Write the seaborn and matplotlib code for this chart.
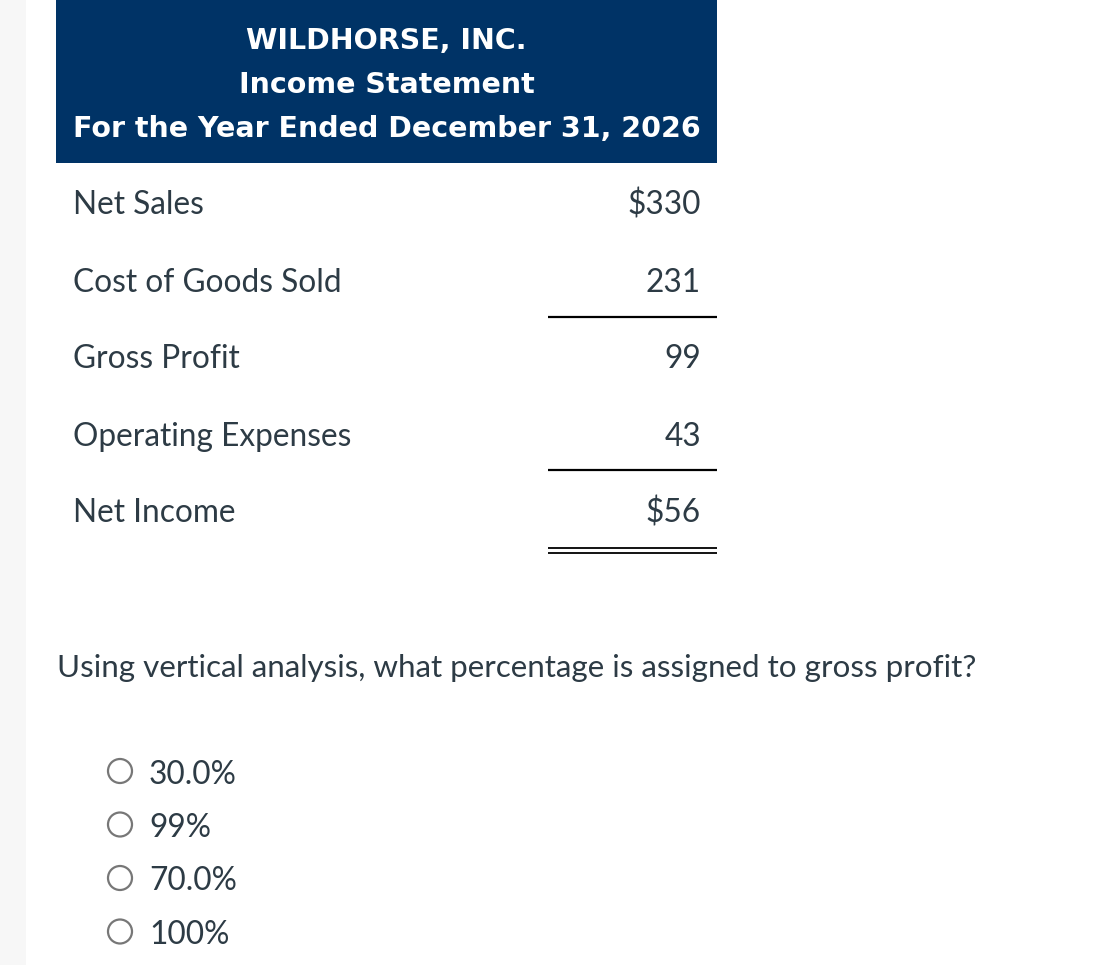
import seaborn as sns
import matplotlib.pyplot as plt
from matplotlib.patches import Rectangle, Circle

# data
company = "WILDHORSE, INC."
statement_name = "Income Statement"
period = "For the Year Ended December 31, 2026"
line_items = ["Net Sales", "Cost of Goods Sold", "Gross Profit", "Operating Expenses", "Net Income"]
amounts = [330, 231, 99, 43, 56]
dollar_sign = [True, False, False, False, True]
question = "Using vertical analysis, what percentage is assigned to gross profit?"
choices = ["30.0%", "99%", "70.0%", "100%"]

sns.set_theme(style="white")
plt.rcParams['font.family'] = ['Lato', 'DejaVu Sans']

text_col = "#2d3b45"
navy = "#003366"

fig = plt.figure(figsize=(10.95, 9.65), dpi=100)
ax = fig.add_axes([0, 0, 1, 1])
ax.set_xlim(0, 1095)
ax.set_ylim(965, 0)
ax.axis('off')

# light strip on the left
ax.add_patch(Rectangle((0, 0), 26, 965, color="#f7f7f7", lw=0))

# header box
ax.add_patch(Rectangle((56, 0), 661, 163, color=navy, lw=0))
for txt, yb in zip([company, statement_name, period], [49, 93, 137]):
    ax.text(386.5, yb, txt, color="white", fontsize=20.5, fontweight="bold",
            family=["DejaVu Sans"], ha="center", va="baseline")

# statement rows
row_base = 214.5
row_step = 77
for i, (item, amt, ds) in enumerate(zip(line_items, amounts, dollar_sign)):
    yb = row_base + i * row_step
    ax.text(73, yb, item, color=text_col, fontsize=22.8, ha="left", va="baseline")
    label = f"${amt}" if ds else f"{amt}"
    ax.text(701, yb, label, color=text_col, fontsize=22.8, ha="right", va="baseline")

# rules
ax.plot([548, 717], [317, 317], color="black", lw=1.6, solid_capstyle="butt")
ax.plot([548, 717], [470, 470], color="black", lw=1.6, solid_capstyle="butt")
ax.plot([548, 717], [548, 548], color="black", lw=1.3, solid_capstyle="butt")
ax.plot([548, 717], [552.5, 552.5], color="black", lw=1.3, solid_capstyle="butt")

# question
ax.text(57, 676.5, question, color=text_col, fontsize=22.6, ha="left", va="baseline")

# answer choices
for i, ch in enumerate(choices):
    cy = 771 + i * 53.5
    ax.add_patch(Circle((120, cy), 12, facecolor="white", edgecolor="#777777", lw=1.6))
    ax.text(149, cy + 12.5, ch, color=text_col, fontsize=22.8, ha="left", va="baseline")

fig.savefig("out.png", dpi=100)
